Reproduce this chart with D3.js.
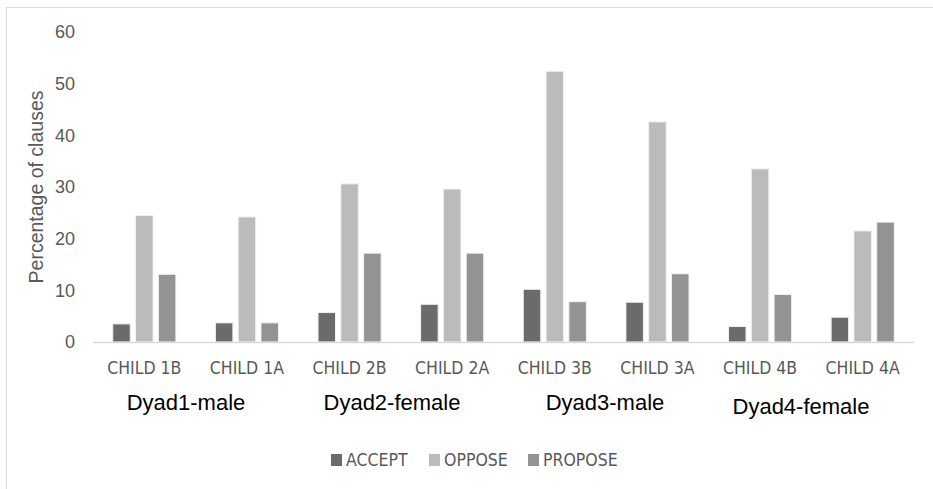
<!DOCTYPE html>
<html>
<head>
<meta charset="utf-8">
<script src="https://cdn.jsdelivr.net/npm/d3@7"></script>
<style>
  body { margin: 0; background: #fff; }
  text { font-family: "Liberation Sans", Arial, sans-serif; }
  .narrow { font-family: "Liberation Sans Narrow", "Arial Narrow", "DejaVu Sans Condensed", sans-serif; }
</style>
</head>
<body>
<div id="chart"></div>
<script>
// data
const children = ["CHILD 1B", "CHILD 1A", "CHILD 2B", "CHILD 2A", "CHILD 3B", "CHILD 3A", "CHILD 4B", "CHILD 4A"];
const series = ["ACCEPT", "OPPOSE", "PROPOSE"];
const accept  = [3.5, 3.7, 5.7, 7.3, 10.2, 7.7, 3.0, 4.8];
const oppose  = [24.5, 24.2, 30.6, 29.6, 52.4, 42.6, 33.5, 21.5];
const propose = [13.1, 3.7, 17.2, 17.2, 7.8, 13.2, 9.2, 23.2];
const dyads = ["Dyad1-male", "Dyad2-female", "Dyad3-male", "Dyad4-female"];
const yTicks = [0, 10, 20, 30, 40, 50, 60];

const colors = {ACCEPT: "#6b6b6b", OPPOSE: "#bbbbbb", PROPOSE: "#939393"};
const values = {ACCEPT: accept, OPPOSE: oppose, PROPOSE: propose};

const width = 933, height = 489;
const plotLeft = 93, plotRight = 914, plotTop = 32, plotBottom = 342;

const svg = d3.select("#chart").append("svg")
  .attr("width", width)
  .attr("height", height);

// outer chart frame (runs off the right and bottom)
svg.append("rect")
  .attr("x", 6.5).attr("y", 7.5)
  .attr("width", 1000).attr("height", 1000)
  .attr("fill", "none")
  .attr("stroke", "#d9d9d9");

const x = d3.scaleBand().domain(children).range([plotLeft, plotRight]);
const x1 = d3.scaleBand().domain(series).range([0, x.bandwidth()])
  .paddingInner(0.233).paddingOuter(0.867);
const y = d3.scaleLinear().domain([0, 60]).range([plotBottom, plotTop]);

// y tick labels
svg.append("g")
  .selectAll("text")
  .data(yTicks)
  .join("text")
  .attr("x", 75)
  .attr("y", d => y(d))
  .attr("dy", "0.35em")
  .attr("text-anchor", "end")
  .attr("font-size", 18)
  .attr("fill", "#595959")
  .text(d => d);

// y title
svg.append("text")
  .attr("transform", "translate(36,187) rotate(-90)")
  .attr("text-anchor", "middle")
  .attr("dy", "0.35em")
  .attr("font-size", 19.5)
  .attr("fill", "#595959")
  .text("Percentage of clauses");

// bars
const groups = svg.append("g")
  .selectAll("g")
  .data(children)
  .join("g")
  .attr("transform", d => `translate(${x(d)},0)`);

groups.selectAll("rect")
  .data((c, i) => series.map(s => ({s, v: values[s][i]})))
  .join("rect")
  .attr("x", d => x1(d.s))
  .attr("width", x1.bandwidth())
  .attr("y", d => y(d.v))
  .attr("height", d => y(0) - y(d.v))
  .attr("fill", d => colors[d.s])
  .attr("stroke", "#f0f0f0")
  .attr("stroke-width", 1);

// baseline
svg.append("line")
  .attr("x1", plotLeft).attr("x2", plotRight)
  .attr("y1", y(0) + 0.5).attr("y2", y(0) + 0.5)
  .attr("stroke", "#d9d9d9")
  .attr("stroke-width", 1.5);

// category labels
svg.append("g")
  .selectAll("text")
  .data(children)
  .join("text")
  .attr("class", "narrow")
  .attr("x", d => x(d) + x.bandwidth() / 2)
  .attr("y", 368)
  .attr("dy", "0.35em")
  .attr("text-anchor", "middle")
  .attr("font-size", 17.5)
  .attr("fill", "#595959")
  .text(d => d);

// dyad labels (hand placed under each pair, as in the source)
const dyadX = [186, 392, 605, 801];
const dyadY = [402, 402, 402, 406];
svg.append("g")
  .selectAll("text")
  .data(dyads)
  .join("text")
  .attr("x", (d, i) => dyadX[i])
  .attr("y", (d, i) => dyadY[i])
  .attr("dy", "0.35em")
  .attr("text-anchor", "middle")
  .attr("font-size", 22)
  .attr("fill", "#000")
  .text(d => d);

// legend
const legendX = [331, 429, 528];
const legend = svg.append("g")
  .selectAll("g")
  .data(series)
  .join("g")
  .attr("transform", (d, i) => `translate(${legendX[i]},460)`);

legend.append("rect")
  .attr("x", 0).attr("y", -6)
  .attr("width", 11).attr("height", 12)
  .attr("fill", d => colors[d]);

legend.append("text")
  .attr("class", "narrow")
  .attr("x", 15)
  .attr("dy", "0.35em")
  .attr("font-size", 17.5)
  .attr("fill", "#595959")
  .text(d => d);
</script>
</body>
</html>
